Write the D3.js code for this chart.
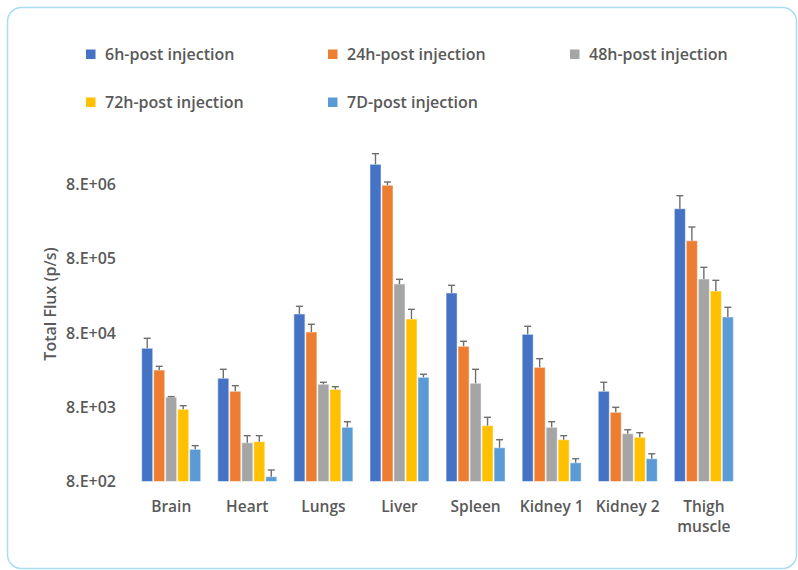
<!DOCTYPE html>
<html><head><meta charset="utf-8">
<script src="https://cdn.jsdelivr.net/npm/d3@7/dist/d3.min.js"></script>
<style>
html,body{margin:0;padding:0;background:#fff;}
svg{display:block;font-family:"Open Sans","Noto Sans",sans-serif;}
</style></head>
<body>
<svg id="chart" width="798" height="570"></svg>
<script>
const categories = ["Brain","Heart","Lungs","Liver","Spleen","Kidney 1","Kidney 2","Thigh muscle"];
const seriesNames = ["6h-post injection","24h-post injection","48h-post injection","72h-post injection","7D-post injection"];
const seriesColors = ["#4472c4","#ed7d31","#a5a5a5","#ffc000","#5b9bd5"];
const values6h  = [49700, 19600, 143700, 14860000, 275500, 76600, 13100, 3756000];
const values24h = [25300, 13100, 82300, 7760000, 52800, 27500, 6830, 1393000];
const values48h = [10900, 2660, 16300, 364000, 16800, 4290, 3520, 425000];
const values72h = [7500, 2750, 13900, 123000, 4510, 2920, 3150, 293000];
const values7d  = [2170, 928, 4290, 20200, 2280, 1430, 1620, 131000];
const errors6h  = [18000, 6300, 38700, 5800000, 74000, 21600, 4200, 1870000];
const errors24h = [3100, 2500, 22200, 830000, 8900, 8500, 1150, 737000];
const errors48h = [200, 650, 1000, 57000, 9100, 810, 460, 186000];
const errors72h = [880, 560, 1200, 43000, 1340, 390, 480, 115000];
const errors7d  = [260, 214, 810, 2000, 640, 190, 270, 46000];
const yTicks = [800, 8000, 80000, 800000, 8000000];
const yTickLabels = ["8.E+02","8.E+03","8.E+04","8.E+05","8.E+06"];

const allValues = [values6h, values24h, values48h, values72h, values7d];
const allErrors = [errors6h, errors24h, errors48h, errors72h, errors7d];

const svg = d3.select("#chart");
const textColor = "#595959";
const fontFam = "'Open Sans','Noto Sans',sans-serif";

// frame
svg.append("rect").attr("x",7.5).attr("y",7.5).attr("width",789).attr("height",561)
  .attr("rx",14).attr("ry",14).attr("fill","#fff").attr("stroke","#a9dcf5").attr("stroke-width",1.5);

const x0 = d3.scaleBand().domain(categories).range([133.15, 741.9]).paddingInner(0.2246).paddingOuter(0.1123);
const x1 = d3.scaleBand().domain(seriesNames).range([0, x0.bandwidth()]).paddingInner(0.08).paddingOuter(0);
const y = d3.scaleLog().domain([800, 8000000]).range([481.5, 184.3]);

const data = [];
categories.forEach((c, ci) => {
  seriesNames.forEach((s, si) => {
    data.push({cat: c, ser: s, si, v: allValues[si][ci], e: allErrors[si][ci]});
  });
});

const g = svg.append("g");
g.selectAll("rect.bar").data(data).join("rect").attr("class","bar")
  .attr("x", d => x0(d.cat) + x1(d.ser))
  .attr("width", x1.bandwidth())
  .attr("y", d => y(d.v))
  .attr("height", d => y(800) - y(d.v))
  .attr("fill", d => seriesColors[d.si])
  .attr("stroke", "#ffffff").attr("stroke-opacity", 0.5).attr("stroke-width", 1);

// error bars
const eg = g.selectAll("g.err").data(data).join("g").attr("class","err")
  .attr("stroke", "#6e6e6e").attr("stroke-width", 1.4);
eg.append("line")
  .attr("x1", d => x0(d.cat) + x1(d.ser) + x1.bandwidth()/2)
  .attr("x2", d => x0(d.cat) + x1(d.ser) + x1.bandwidth()/2)
  .attr("y1", d => y(d.v))
  .attr("y2", d => y(d.v + d.e));
eg.append("line")
  .attr("x1", d => x0(d.cat) + x1(d.ser) + x1.bandwidth()/2 - 3.5)
  .attr("x2", d => x0(d.cat) + x1(d.ser) + x1.bandwidth()/2 + 3.5)
  .attr("y1", d => y(d.v + d.e))
  .attr("y2", d => y(d.v + d.e));

// y axis labels
const yAxis = d3.axisLeft(y).tickValues(yTicks).tickFormat((d,i) => yTickLabels[i]).tickSize(0).tickPadding(0);
const ya = svg.append("g").attr("transform","translate(116,0)").call(yAxis);
ya.select(".domain").remove();
ya.selectAll("text").attr("fill", textColor).attr("font-size", 16).attr("font-weight", 600)
  .attr("font-family", fontFam);

// x axis labels
const xAxis = d3.axisBottom(x0).tickSize(0).tickPadding(0);
const xa = svg.append("g").attr("transform","translate(0,501)").call(xAxis);
xa.select(".domain").remove();
xa.selectAll("text").attr("fill", textColor).attr("font-size", 15.5).attr("font-weight", 600)
  .attr("font-family", fontFam)
  .each(function(d){
    if (d === "Thigh muscle") {
      const t = d3.select(this);
      t.text(null);
      t.append("tspan").attr("x",0).attr("dy","0.71em").text("Thigh");
      t.append("tspan").attr("x",0).attr("dy","1.3em").text("muscle");
      t.attr("dy", null);
    }
  });

// y axis title
svg.append("text").attr("transform","translate(52,304) rotate(-90)")
  .attr("text-anchor","middle").attr("dominant-baseline","middle")
  .attr("fill", textColor).attr("font-size", 16).attr("font-weight", 600)
  .attr("font-family", fontFam)
  .text("Total Flux (p/s)");

// legend
const legendPos = [[86,54],[328,54],[570,54],[86,102],[328,102]];
const lg = svg.append("g").selectAll("g").data(seriesNames).join("g")
  .attr("transform", (d,i) => `translate(${legendPos[i][0]},${legendPos[i][1]})`);
lg.append("rect").attr("x",0).attr("y",-4.5).attr("width",9.5).attr("height",9.5)
  .attr("fill", (d,i) => seriesColors[i]);
lg.append("text").attr("x",19).attr("y",0).attr("dominant-baseline","central")
  .attr("fill", textColor).attr("font-size", 16).attr("font-weight", 600)
  .attr("font-family", fontFam)
  .text(d => d);
</script>
</body></html>
